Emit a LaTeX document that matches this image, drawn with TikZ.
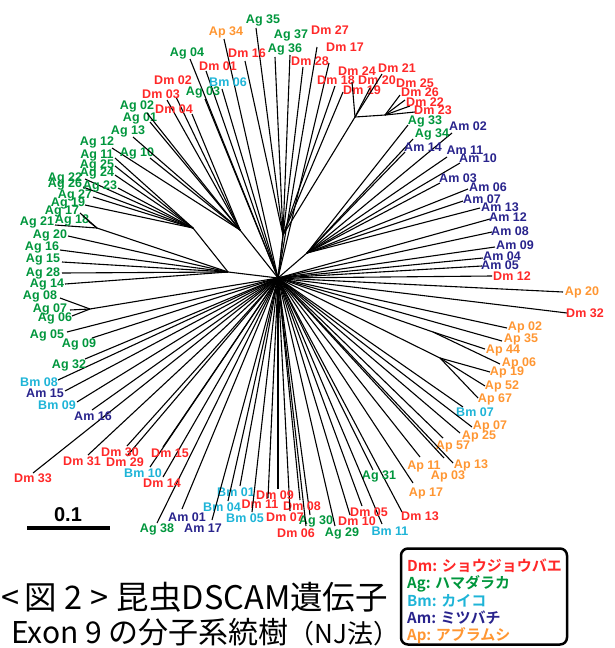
\documentclass[tikz,border=0pt]{standalone}
\usepackage{fontspec}
\newfontfamily\lab{Liberation Sans}
\newfontfamily\jp{Noto Sans CJK JP}[BoldFont={Noto Sans CJK JP Bold}]
\definecolor{cdm}{RGB}{255,40,40}
\definecolor{cag}{RGB}{0,150,60}
\definecolor{cbm}{RGB}{30,180,215}
\definecolor{cam}{RGB}{40,35,140}
\definecolor{cap}{RGB}{255,150,50}
\tikzset{
  branch/.style={line width=1.1pt, black},
  lbl/.style={inner sep=0pt, font=\lab\bfseries\fontsize{12.5}{12.5}\selectfont},
  dm/.style={lbl, text=cdm}, ag/.style={lbl, text=cag}, bm/.style={lbl, text=cbm},
  am/.style={lbl, text=cam}, ap/.style={lbl, text=cap},
  legtxt/.style={inner sep=0pt, anchor=west, font=\jp\bfseries\fontsize{15}{15}\selectfont}
}
\newcommand{\leafx}[6]{%
  \coordinate (#1e) at (#3);
  \draw[branch] (#2) -- (#1e);
  \node[#5] (#1) at (#4) {#6};
}
\begin{document}
\begin{tikzpicture}[x=1pt,y=-1pt]
\useasboundingbox (0,0) rectangle (614,648);
% internal nodes
\coordinate (C) at (278,278);
\coordinate (U) at (283,235);
\coordinate (D1) at (355,117);
\coordinate (D2) at (385,115);
\coordinate (R1) at (307,253);
\coordinate (A) at (228,272);
\coordinate (B) at (193,228);
\coordinate (B2) at (97,228);
\coordinate (E) at (240,230);
\coordinate (A6) at (90,309);
\coordinate (P1) at (433,332);
\coordinate (P2) at (440,358);
\draw[branch] (C) -- (U);
\draw[branch] (U) -- (D1);
\draw[branch] (D1) -- (D2);
\draw[branch] (C) -- (R1);
\draw[branch] (C) -- (A);
\draw[branch] (A) -- (B);
\draw[branch] (A) -- (B2);
\draw[branch] (C) -- (E);
\draw[branch] (C) -- (A6);
\draw[branch] (C) -- (P1);
\draw[branch] (C) -- (P2);
% top
\leafx{ag35}{U}{256,28}{263,20}{ag}{Ag 35}
\leafx{ap34}{C}{224,39}{226,32}{ap}{Ap 34}
\leafx{ag37}{U}{290,55}{291,35}{ag}{Ag 37}
\leafx{ag36}{U}{275,57}{285,49}{ag}{Ag 36}
\leafx{dm16}{U}{245,61}{247,53}{dm}{Dm 16}
\leafx{ag04}{C}{190,59}{187,53}{ag}{Ag 04}
\leafx{dm01}{C}{206,71}{218,66}{dm}{Dm 01}
\leafx{bm06}{C}{222,89}{228,82}{bm}{Bm 06}
\leafx{dm02}{E}{176,97}{173,80}{dm}{Dm 02}
\leafx{dm03}{E}{167,100}{161,94}{dm}{Dm 03}
\leafx{ag03}{C}{205,99}{203,92}{ag}{Ag 03}
\leafx{dm04}{E}{192,114}{174,109}{dm}{Dm 04}
% top right
\leafx{dm28}{C}{303,67}{310,61}{dm}{Dm 28}
\leafx{dm27}{C}{317,47}{330,30}{dm}{Dm 27}
\leafx{dm17}{C}{329,63}{345,47}{dm}{Dm 17}
\leafx{dm18}{U}{335,86}{336,80}{dm}{Dm 18}
\leafx{dm19}{U}{343,92}{362,90}{dm}{Dm 19}
\leafx{dm24}{D1}{352,82}{357,71}{dm}{Dm 24}
\leafx{dm20}{D1}{370,88}{377,80}{dm}{Dm 20}
\leafx{dm21}{D1}{382,74}{397,68}{dm}{Dm 21}
\leafx{dm25}{D2}{400,95}{415,83}{dm}{Dm 25}
\leafx{dm26}{D2}{405,100}{420,92}{dm}{Dm 26}
\leafx{dm22}{D2}{410,106}{425,102}{dm}{Dm 22}
\leafx{dm23}{D2}{415,112}{433,110}{dm}{Dm 23}
% right
\leafx{ag33}{R1}{408,125}{425,121}{ag}{Ag 33}
\leafx{am02}{R1}{452,133}{468,126}{am}{Am 02}
\leafx{ag34}{R1}{413,139}{432,134}{ag}{Ag 34}
\leafx{am14}{R1}{405,152}{423,147}{am}{Am 14}
\leafx{am11}{R1}{447,157}{465,150}{am}{Am 11}
\leafx{am10}{R1}{460,163}{478,158}{am}{Am 10}
\leafx{am03}{R1}{440,183}{458,178}{am}{Am 03}
\leafx{am06}{R1}{468,189}{488,187}{am}{Am 06}
\leafx{am07}{R1}{463,201}{482,199}{am}{Am 07}
\leafx{am13}{R1}{480,208}{500,207}{am}{Am 13}
\leafx{am12}{C}{490,219}{508,217}{am}{Am 12}
\leafx{am08}{C}{492,232}{510,231}{am}{Am 08}
\leafx{am09}{C}{495,247}{515,245}{am}{Am 09}
\leafx{am04}{C}{483,258}{502,256}{am}{Am 04}
\leafx{am05}{C}{482,266}{500,265}{am}{Am 05}
\leafx{dm12}{C}{492,276}{512,276}{dm}{Dm 12}
\leafx{ap20}{C}{563,292}{582,292}{ap}{Ap 20}
\leafx{dm32}{C}{567,313}{585,313}{dm}{Dm 32}
% lower right
\leafx{ap02}{C}{507,328}{525,327}{ap}{Ap 02}
\leafx{ap35}{C}{502,341}{521,339}{ap}{Ap 35}
\leafx{ap44}{P1}{485,349}{503,350}{ap}{Ap 44}
\leafx{ap06}{P1}{500,364}{519,363}{ap}{Ap 06}
\leafx{ap19}{P2}{490,372}{507,372}{ap}{Ap 19}
\leafx{ap52}{P2}{485,386}{502,386}{ap}{Ap 52}
\leafx{ap67}{P2}{478,398}{495,399}{ap}{Ap 67}
\leafx{bm07}{C}{463,407}{475,412}{bm}{Bm 07}
\leafx{ap07}{C}{472,427}{490,426}{ap}{Ap 07}
\leafx{ap25}{C}{460,433}{479,436}{ap}{Ap 25}
\leafx{ap57}{C}{443,438}{453,446}{ap}{Ap 57}
\leafx{ap13}{C}{453,463}{471,465}{ap}{Ap 13}
\leafx{ap11}{C}{420,457}{424,466}{ap}{Ap 11}
\leafx{ap03}{C}{444,458}{448,476}{ap}{Ap 03}
\leafx{ap17}{C}{413,483}{426,493}{ap}{Ap 17}
\leafx{dm13}{C}{402,512}{420,516}{dm}{Dm 13}
% bottom
\leafx{ag31}{C}{373,470}{379,476}{ag}{Ag 31}
\leafx{bm11}{C}{382,524}{390,531}{bm}{Bm 11}
\leafx{dm05}{C}{362,506}{369,512}{dm}{Dm 05}
\leafx{dm10}{C}{350,515}{357,521}{dm}{Dm 10}
\leafx{ag29}{C}{335,526}{342,533}{ag}{Ag 29}
\leafx{ag30}{C}{310,515}{316,521}{ag}{Ag 30}
\leafx{dm08}{C}{300,500}{302,506}{dm}{Dm 08}
\leafx{dm06}{C}{306,526}{296,533}{dm}{Dm 06}
\leafx{dm07}{C}{290,511}{285,517}{dm}{Dm 07}
\leafx{dm09}{C}{278,489}{275,495}{dm}{Dm 09}
\leafx{dm11}{C}{268,498}{260,504}{dm}{Dm 11}
\leafx{bm01}{C}{240,486}{236,492}{bm}{Bm 01}
\leafx{bm04}{C}{228,501}{222,507}{bm}{Bm 04}
\leafx{bm05}{C}{252,512}{245,518}{bm}{Bm 05}
\leafx{am01}{C}{182,509}{187,517}{am}{Am 01}
\leafx{am17}{C}{212,520}{203,528}{am}{Am 17}
\leafx{ag38}{C}{157,523}{157,529}{ag}{Ag 38}
\leafx{dm14}{C}{163,477}{162,483}{dm}{Dm 14}
\leafx{bm10}{C}{150,467}{143,473}{bm}{Bm 10}
\leafx{dm15}{C}{163,447}{170,453}{dm}{Dm 15}
\leafx{dm29}{C}{127,456}{125,462}{dm}{Dm 29}
\leafx{dm30}{C}{127,446}{120,452}{dm}{Dm 30}
\leafx{dm31}{C}{88,455}{82,461}{dm}{Dm 31}
\leafx{dm33}{C}{33,473}{33,478}{dm}{Dm 33}
% left
\leafx{am16}{C}{92,410}{93,416}{am}{Am 16}
\leafx{bm09}{C}{77,402}{57,405}{bm}{Bm 09}
\leafx{am15}{C}{65,391}{45,393}{am}{Am 15}
\leafx{bm08}{C}{58,380}{39,382}{bm}{Bm 08}
\leafx{ag32}{C}{85,359}{69,365}{ag}{Ag 32}
\leafx{ag09}{C}{92,338}{79,344}{ag}{Ag 09}
\leafx{ag05}{C}{67,332}{47,335}{ag}{Ag 05}
\leafx{ag06}{A6}{72,316}{55,318}{ag}{Ag 06}
\leafx{ag07}{A6}{70,310}{50,309}{ag}{Ag 07}
\leafx{ag08}{A6}{60,298}{40,296}{ag}{Ag 08}
\leafx{ag14}{A}{65,284}{47,285}{ag}{Ag 14}
\leafx{ag28}{A}{62,273}{43,273}{ag}{Ag 28}
\leafx{ag15}{A}{62,262}{43,260}{ag}{Ag 15}
\leafx{ag16}{A}{60,250}{42,247}{ag}{Ag 16}
\leafx{ag20}{A}{68,236}{50,235}{ag}{Ag 20}
\leafx{ag21}{B2}{55,225}{37,222}{ag}{Ag 21}
\leafx{ag18}{B2}{88,221}{72,220}{ag}{Ag 18}
\leafx{ag17}{B2}{80,213}{62,212}{ag}{Ag 17}
\leafx{ag19}{B}{85,205}{68,203}{ag}{Ag 19}
\leafx{ag27}{B}{93,197}{75,195}{ag}{Ag 27}
\leafx{ag26}{B}{83,187}{65,184}{ag}{Ag 26}
\leafx{ag22}{B}{85,179}{65,178}{ag}{Ag 22}
\leafx{ag23}{B}{118,188}{100,186}{ag}{Ag 23}
\leafx{ag24}{B}{115,175}{97,173}{ag}{Ag 24}
\leafx{ag25}{B}{115,166}{97,165}{ag}{Ag 25}
\leafx{ag11}{B}{115,158}{97,156}{ag}{Ag 11}
\leafx{ag12}{E}{112,148}{97,142}{ag}{Ag 12}
\leafx{ag10}{E}{150,158}{137,153}{ag}{Ag 10}
\leafx{ag13}{E}{133,137}{128,131}{ag}{Ag 13}
\leafx{ag01}{E}{150,122}{140,118}{ag}{Ag 01}
\leafx{ag02}{E}{147,113}{137,106}{ag}{Ag 02}
% scale bar
\coordinate (s1) at (27,528);
\coordinate (s2) at (110,528);
\draw[line width=4pt] (s1) -- (s2);
\node[inner sep=0pt, font=\lab\bfseries\fontsize{20}{20}\selectfont] (scl) at (68,515) {0.1};
% title
\node[inner sep=0pt, anchor=west, font=\jp\fontsize{32.5}{32.5}\selectfont] (t1) at (1,597) {<\hspace{5pt}図\hspace{8pt}2\hspace{8pt}>\hspace{8pt}昆虫DSCAM遺伝子};
\node[inner sep=0pt, anchor=west, font=\jp\fontsize{30}{30}\selectfont] (t2) at (11,632) {Exon 9 の分子系統樹{\fontsize{26}{26}\selectfont （NJ法）}};
% legend
\node[draw, line width=2.5pt, rounded corners=7pt, minimum width=166pt, minimum height=96pt, inner sep=0pt] (legend) at (484,596.5) {};
\node[legtxt, text=cdm] (l1) at (407,566) {Dm: ショウジョウバエ};
\node[legtxt, text=cag] (l2) at (407,584) {Ag: ハマダラカ};
\node[legtxt, text=cbm] (l3) at (407,601) {Bm: カイコ};
\node[legtxt, text=cam] (l4) at (407,618) {Am: ミツバチ};
\node[legtxt, text=cap] (l5) at (407,636) {Ap: アブラムシ};
\end{tikzpicture}
\end{document}
